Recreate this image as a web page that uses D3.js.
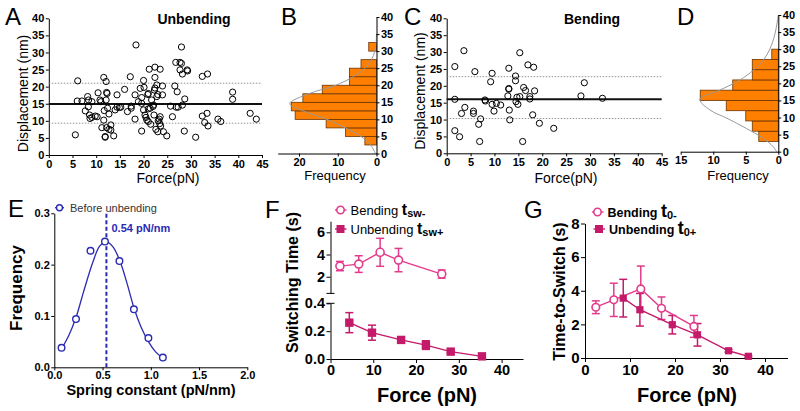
<!DOCTYPE html>
<html><head><meta charset="utf-8">
<script src="https://cdn.jsdelivr.net/npm/d3@7"></script>
<style>
body{margin:0;background:#fff}
svg{display:block}
</style></head><body>
<svg id="c" width="800" height="411"></svg>
<script>
// ---------------- DATA ----------------
// Panel A: unbending scatter
const unbForce = [5.6,6.1,6.0,7.0,7.7,8.2,8.4,8.6,9.1,9.1,9.8,10.4,10.2,11.0,11.2,11.6,11.7,11.6,11.9,12.1,12.3,12.1,12.4,12.7,13.1,13.1,13.7,14.0,14.4,14.4,15.2,16.0,16.6,17.2,17.4,17.4,18.2,18.2,18.4,18.9,19.3,19.6,19.6,19.6,20.0,20.1,20.0,20.3,20.7,21.0,21.0,21.2,21.4,21.7,22.1,22.2,22.4,22.4,22.3,22.8,22.8,22.6,23.1,23.5,23.5,23.6,24.0,24.0,24.2,24.9,25.7,26.1,26.6,26.8,27.1,26.9,27.7,28.0,28.0,27.7,28.2,28.2,28.6,28.7,29.3,31.0,32.4,32.4,32.9,33.4,33.6,33.5,35.7,36.3,38.8,38.8,42.5,43.8,8.7,8.35,10.8,12.2,11.9,12.7,14.9,12.2,20.9,23.0,21.0,22.0,20.5,23.3,21.5,23.4,27.3,23.0,29.2,22.4];
const unbDisp = [5.9,21.7,15.8,15.8,12.9,17.1,16.1,11.7,15.6,11.0,11.4,18.2,11.2,15.6,8.0,22.7,13.0,10.2,5.2,21.5,18.0,16.1,13.7,12.0,8.8,7.3,5.6,13.2,17.6,14.0,14.0,19.2,12.7,22.9,14.3,13.7,17.6,10.5,32.2,15.6,19.5,16.8,15.1,7.0,21.8,19.8,13.2,11.7,10.2,18.0,9.8,25.1,13.7,16.1,14.6,11.7,25.7,22.7,19.0,20.5,17.1,7.5,10.0,25.1,11.2,8.5,20.2,17.6,6.8,5.6,14.3,11.2,20.2,27.1,18.5,14.0,27.1,31.6,26.8,24.9,23.7,14.6,7.0,16.4,24.6,5.2,23.0,11.4,9.5,12.2,8.5,23.7,10.5,9.8,18.4,16.3,12.2,10.5,10.7,14.1,16.1,8.0,5.4,7.5,13.9,18.3,17.7,17.7,13.5,14.2,11.0,10.5,9.0,9.2,14.0,6.8,24.9,19.6];
const unbLines = [14.9, 9.3, 21.0];   // mean, lower, upper

// Panel B: unbending histogram (bin start, count), fit curve points [disp, freq]
const unbBinStart = [2.5,5,7.5,10,12.5,15,17.5,20,22.5,25,30];
const unbBinCount = [3,8,13,21,22,19,14,7,7,4,2];
const unbBinWidth = 2.5;
const unbFit = [[0,0.3],[2.5,1.5],[5,4],[7.5,8],[10,12.8],[12.5,19],[14.6,22.4],[17.5,17.5],[20,10.5],[22.5,6],[25,3],[27.5,1.3],[30,0.45],[32.5,0.1],[35,0]];

// Panel C: bending scatter
const bendForce = [1.7,1.7,1.7,2.7,3.1,3.6,3.8,5.6,5.6,5.9,6.7,7.1,6.9,8.0,8.1,9.2,9.5,9.5,9.9,10.4,11.3,13.0,13.0,13.0,12.8,13.1,13.2,14.4,14.4,14.5,14.7,14.9,15.3,15.3,15.9,16.1,16.5,17.0,17.4,17.4,18.2,18.4,18.0,19.4,22.4,28.1,28.8,32.6];
const bendDisp = [25.7,16.0,6.7,4.9,11.8,30.4,13.6,11.8,12.5,24.2,8.6,10.2,3.5,15.8,15.5,21.2,23.7,14.5,12.5,14.8,14.3,25.2,19.2,19.0,17.0,12.8,9.9,22.9,21.5,15.3,16.6,14.5,16.8,29.8,3.5,19.5,18.6,26.2,16.8,16.1,25.5,18.5,11.4,8.9,7.4,17.0,20.9,16.3];
const bendLines = [16.0, 10.3, 22.7];

// Panel D: bending histogram
const bendBinStart = [3,6,9,12,15,18,21,24,27];
const bendBinCount = [3,4,5,8,12,7,4,4,1];
const bendBinWidth = 3;
const bendFit = [[0,0.25],[1.5,0.8],[3.9,2.3],[6.8,4.9],[9.8,7.9],[12.2,10.5],[15.3,12.05],[18,9],[21,5.9],[23.9,3.8],[26.8,2.3],[30,1.3],[34.6,0.5],[40,0]];

// Panel E: spring constant distribution
const springK = [0.075,0.225,0.375,0.525,0.675,0.825,0.975,1.125];
const springFreq = [0.038,0.094,0.227,0.245,0.207,0.113,0.057,0.019];
const springFit = [[0.075,0.036],[0.15,0.062],[0.225,0.097],[0.3,0.145],[0.4,0.205],[0.47,0.236],[0.54,0.245],[0.61,0.234],[0.68,0.207],[0.75,0.166],[0.83,0.113],[0.9,0.078],[0.975,0.05],[1.05,0.03],[1.13,0.017]];
const springPeak = 0.54;

// Panel F: switching time
const fForceBend = [2.2,6.6,11.6,15.9,26.0];
const fTimeBend = [2.96,3.14,4.2,3.5,2.24];
const fErrBend = [0.42,0.75,1.26,1.05,0.37];
const fForceUnb = [4.4,9.7,16.5,22.3,28.1,35.4];
const fTimeUnb = [0.261,0.189,0.137,0.10,0.053,0.019];
const fErrUnb = [0.072,0.054,0.02,0.031,0.008,0.006];

// Panel G: time-to-switch
const gForceBend = [2.4,6.4,12.4,17.0,24.2];
const gTimeBend = [3.02,3.46,4.11,2.96,1.88];
const gErrBend = [0.38,0.99,1.36,0.67,0.65];
const gForceUnb = [8.5,12.2,19.4,25.0,31.9,36.3];
const gTimeUnb = [3.56,2.87,1.98,1.38,0.43,0.1];
const gErrUnb = [1.12,0.97,0.55,0.67,0.08,0.05];

// tick labels
const dispTicks = [0,5,10,15,20,25,30,35,40];
const forceTicksAC = [0,5,10,15,20,25,30,35,40,45];
const freqTicksB = [0,10,20];
const freqTicksD = [0,5,10,15];
const eTicksX = [0,0.5,1.0,1.5,2.0];
const eTicksY = [0,0.1,0.2,0.3];
const fgTicksX = [0,10,20,30,40];
const fTicksUp = [2,4,6];
const fTicksLo = [0,0.2,0.4];
const gTicksY = [0,2,4,6,8];

// ---------------- DRAW ----------------
const FF = 'Arial, "Liberation Sans", sans-serif';
const svg = d3.select('#c').attr('font-family', FF);
const orange = '#ff8000', barStroke = '#6b3300';
const blue = '#2a2ab4';
const bendC = '#e23b8d', unbC = '#c41a6a';

function ax(g, axis, size, weight) {
  g.call(axis);
  g.attr('font-family', FF).attr('font-size', size).attr('font-weight', weight || 'bold');
  g.selectAll('.domain').attr('stroke', '#000');
  g.selectAll('.tick line').attr('stroke', '#000');
  g.selectAll('text').attr('fill', '#000');
  return g;
}
function txt(x, y, s, size, weight, opts) {
  const t = svg.append('text').attr('x', x).attr('y', y).text(s)
    .attr('font-size', size).attr('font-weight', weight || 'normal').attr('fill', (opts && opts.fill) || '#000');
  if (opts && opts.anchor) t.attr('text-anchor', opts.anchor);
  if (opts && opts.rotate) t.attr('transform', `rotate(-90,${x},${y})`);
  return t;
}

// ---- Scatter panels (A, C)
function scatter(xr, yr, forces, disps, lines, title, titleX, labelX) {
  const x = d3.scaleLinear([0,45], xr);
  const y = d3.scaleLinear([0,40], yr);
  ax(svg.append('g').attr('transform', `translate(0,${y(0)})`),
     d3.axisBottom(x).tickValues(forceTicksAC).tickSize(3).tickSizeOuter(0).tickPadding(2), 11);
  ax(svg.append('g').attr('transform', `translate(${x(0)},0)`),
     d3.axisLeft(y).tickValues(dispTicks).tickSize(3).tickSizeOuter(0).tickPadding(1.5), 11);
  [lines[1], lines[2]].forEach(v => {
    svg.append('line').attr('x1', x(0)).attr('x2', x(45)).attr('y1', y(v)).attr('y2', y(v))
      .attr('stroke', '#777').attr('stroke-width', 0.8).attr('stroke-dasharray', '1.5,1.5');
  });
  svg.append('line').attr('x1', x(0)).attr('x2', x(45)).attr('y1', y(lines[0])).attr('y2', y(lines[0]))
    .attr('stroke', '#111').attr('stroke-width', 2);
  svg.append('g').selectAll('circle').data(forces.map((f,i)=>[f, disps[i]])).join('circle')
    .attr('cx', d => x(d[0])).attr('cy', d => y(d[1])).attr('r', 3.1)
    .attr('fill', 'none').attr('stroke', '#000').attr('stroke-width', 1);
  txt(titleX, 24, title, 14, 'bold', {anchor: 'middle'});
  txt(labelX, 183, 'Force(pN)', 14, 'normal', {anchor: 'middle'});
}
scatter([48.8,262], [155,18.3], unbForce, unbDisp, unbLines, 'Unbending', 194, 168);
scatter([446.7,661.7], [153.3,18.3], bendForce, bendDisp, bendLines, 'Bending', 592, 566);
txt(27.5, 93.5, 'Displacement (nm)', 14, 'normal', {anchor: 'middle', rotate: true});
txt(425, 91, 'Displacement (nm)', 14, 'normal', {anchor: 'middle', rotate: true});

// ---- Histogram panels (B, D)
function hist(xdom, xr, yr, starts, counts, w, fit, ticksX, labelX) {
  const x = d3.scaleLinear(xdom, xr);
  const y = d3.scaleLinear([0,40], yr);
  svg.append('g').selectAll('rect').data(starts.map((s,i)=>[s, counts[i]])).join('rect')
    .attr('x', d => x(d[1])).attr('width', d => x(0) - x(d[1]))
    .attr('y', d => y(d[0] + w)).attr('height', d => y(d[0]) - y(d[0] + w))
    .attr('fill', orange).attr('stroke', barStroke).attr('stroke-width', 0.8);
  svg.append('path').datum(fit)
    .attr('d', d3.line().x(d => x(d[1])).y(d => y(d[0])).curve(d3.curveCatmullRom))
    .attr('fill', 'none').attr('stroke', '#999').attr('stroke-width', 1);
  ax(svg.append('g').attr('transform', `translate(0,${y(0)})`),
     d3.axisBottom(x).tickValues(ticksX).tickSize(3).tickSizeOuter(0).tickPadding(1.5), 11);
  ax(svg.append('g').attr('transform', `translate(${x(0)},0)`),
     d3.axisRight(y).tickValues(dispTicks).tickSize(3).tickSizeOuter(0).tickPadding(1.5), 11);
  txt(labelX, 180, 'Frequency', 13, 'normal', {anchor: 'middle'});
}
hist([0,25.5], [376.5,277.7], [153.5,17], unbBinStart, unbBinCount, unbBinWidth, unbFit, freqTicksB, 335);
hist([0,15], [778.3,680.7], [151.7,15], bendBinStart, bendBinCount, bendBinWidth, bendFit, freqTicksD, 738);

// ---- Panel E
(function(){
  const x = d3.scaleLinear([0,2], [54.3,247.3]);
  const y = d3.scaleLinear([0,0.3], [367.3,213.3]);
  ax(svg.append('g').attr('transform', `translate(0,${y(0)})`),
     d3.axisBottom(x).tickValues(eTicksX).tickFormat(d3.format('.1f')).tickSize(3).tickSizeOuter(0).tickPadding(1), 11);
  ax(svg.append('g').attr('transform', `translate(${x(0)},0)`),
     d3.axisLeft(y).tickValues(eTicksY).tickFormat(d3.format('.1f')).tickSize(3).tickSizeOuter(0).tickPadding(1.5), 11);
  svg.append('line').attr('x1', x(springPeak)).attr('x2', x(springPeak)).attr('y1', y(0)).attr('y2', y(0.3))
    .attr('stroke', blue).attr('stroke-width', 2).attr('stroke-dasharray', '4,2.5');
  svg.append('path').datum(springFit)
    .attr('d', d3.line().x(d => x(d[0])).y(d => y(d[1])).curve(d3.curveCatmullRom))
    .attr('fill', 'none').attr('stroke', blue).attr('stroke-width', 1.3);
  svg.append('g').selectAll('circle').data(springK.map((k,i)=>[k, springFreq[i]])).join('circle')
    .attr('cx', d => x(d[0])).attr('cy', d => y(d[1])).attr('r', 3.3)
    .attr('fill', '#fff').attr('stroke', blue).attr('stroke-width', 1.4);
  svg.append('line').attr('x1', 55).attr('x2', 64).attr('y1', 207.7).attr('y2', 207.7).attr('stroke', blue).attr('stroke-width', 1.3);
  svg.append('circle').attr('cx', 59.5).attr('cy', 207.7).attr('r', 3).attr('fill', '#fff').attr('stroke', blue).attr('stroke-width', 1.4);
  txt(70, 211.5, 'Before unbending', 11, 'normal', {fill: '#333'});
  txt(111.5, 231.5, '0.54 pN/nm', 11, 'bold', {fill: blue});
  txt(22, 288, 'Frequency', 17, 'bold', {anchor: 'middle', rotate: true});
  txt(151, 395, 'Spring constant (pN/nm)', 14.5, 'bold', {anchor: 'middle'});
})();

function errbars(g, xs, ys, es, x, y, color, cap) {
  xs.forEach((f, i) => {
    const cx = x(f), y1 = y(ys[i] + es[i]), y2 = y(ys[i] - es[i]);
    g.append('line').attr('x1', cx).attr('x2', cx).attr('y1', y1).attr('y2', y2).attr('stroke', color).attr('stroke-width', 1.5);
    [y1, y2].forEach(yy => g.append('line').attr('x1', cx - cap).attr('x2', cx + cap).attr('y1', yy).attr('y2', yy).attr('stroke', color).attr('stroke-width', 1.5));
  });
}
function series(g, xs, ys, x, y, color, shape, sz) {
  g.append('path').datum(xs.map((f,i)=>[f, ys[i]]))
    .attr('d', d3.line().x(d => x(d[0])).y(d => y(d[1])))
    .attr('fill', 'none').attr('stroke', color).attr('stroke-width', 1.4);
  const pts = xs.map((f,i)=>[f, ys[i]]);
  if (shape === 'circle') {
    g.selectAll(null).data(pts).join('circle').attr('cx', d => x(d[0])).attr('cy', d => y(d[1])).attr('r', sz)
      .attr('fill', '#fff').attr('stroke', color).attr('stroke-width', 1.6);
  } else {
    g.selectAll(null).data(pts).join('rect').attr('x', d => x(d[0]) - sz).attr('y', d => y(d[1]) - sz)
      .attr('width', 2*sz).attr('height', 2*sz).attr('fill', color);
  }
}
function legend(x0, y0, color, shape, label, sub, size, weight, tsize) {
  svg.append('line').attr('x1', x0 - 5.5).attr('x2', x0 + 6).attr('y1', y0).attr('y2', y0).attr('stroke', color).attr('stroke-width', 1.4);
  if (shape === 'circle') svg.append('circle').attr('cx', x0).attr('cy', y0).attr('r', 3.7).attr('fill', '#fff').attr('stroke', color).attr('stroke-width', 1.6);
  else svg.append('rect').attr('x', x0 - 4).attr('y', y0 - 4).attr('width', 8).attr('height', 8).attr('fill', color);
  const t = svg.append('text').attr('x', x0 + 10).attr('y', y0 + 4.5).attr('fill', '#000');
  t.append('tspan').text(label + ' ').attr('font-size', size).attr('font-weight', weight);
  t.append('tspan').text('t').attr('font-size', tsize).attr('font-weight', 'bold');
  t.append('tspan').text(sub).attr('font-size', 11).attr('font-weight', 'bold').attr('dy', 2);
}

// ---- Panel F
(function(){
  const x = d3.scaleLinear([0,45], [330.5,523]);
  const yU = d3.scaleLinear([0.5,7], [293.4,221.2]);
  const yL = d3.scaleLinear([0,0.4], [359,303.3]);
  ax(svg.append('g').attr('transform', `translate(0,${yL(0)})`),
     d3.axisBottom(x).tickValues(fgTicksX).tickSize(4).tickSizeOuter(0).tickPadding(2), 14.5);
  ax(svg.append('g').attr('transform', `translate(${x(0)},0)`),
     d3.axisLeft(yU).tickValues(fTicksUp).tickFormat(d3.format('d')).tickSize(4).tickSizeOuter(0).tickPadding(1.5), 14.5);
  ax(svg.append('g').attr('transform', `translate(${x(0)},0)`),
     d3.axisLeft(yL).tickValues(fTicksLo).tickFormat(d3.format('.1f')).tickSize(4).tickSizeOuter(0).tickPadding(1.5), 14.5);
  [yU(0.5), yL(0.4)].forEach(yy => svg.append('line').attr('x1', x(0) - 4).attr('x2', x(0) + 4).attr('y1', yy).attr('y2', yy).attr('stroke', '#000'));
  const g = svg.append('g');
  errbars(g, fForceBend, fTimeBend, fErrBend, x, yU, bendC, 4);
  errbars(g, fForceUnb, fTimeUnb, fErrUnb, x, yL, unbC, 4);
  series(g, fForceBend, fTimeBend, x, yU, bendC, 'circle', 4);
  series(g, fForceUnb, fTimeUnb, x, yL, unbC, 'rect', 4.2);
  legend(340.5, 210, bendC, 'circle', 'Bending', 'sw-', 13, 'normal', 16);
  legend(340.5, 229, unbC, 'rect', 'Unbending', 'sw+', 13, 'normal', 16);
  txt(298, 282.5, 'Switching Time (s)', 16, 'bold', {anchor: 'middle', rotate: true});
  txt(427, 401.5, 'Force (pN)', 20, 'bold', {anchor: 'middle'});
})();

// ---- Panel G
(function(){
  const x = d3.scaleLinear([0,45], [585,787.5]);
  const y = d3.scaleLinear([0,8], [358,223.5]);
  ax(svg.append('g').attr('transform', `translate(0,${y(0)})`),
     d3.axisBottom(x).tickValues(fgTicksX).tickSize(4).tickSizeOuter(0).tickPadding(2), 15);
  ax(svg.append('g').attr('transform', `translate(${x(0)},0)`),
     d3.axisLeft(y).tickValues(gTicksY).tickFormat(d3.format('d')).tickSize(4).tickSizeOuter(0).tickPadding(1.5), 15);
  const g = svg.append('g');
  errbars(g, gForceBend, gTimeBend, gErrBend, x, y, bendC, 4);
  errbars(g, gForceUnb, gTimeUnb, gErrUnb, x, y, unbC, 4);
  series(g, gForceBend, gTimeBend, x, y, bendC, 'circle', 3.8);
  series(g, gForceUnb, gTimeUnb, x, y, unbC, 'rect', 3.6);
  legend(597.5, 212, bendC, 'circle', 'Bending', '0-', 12.5, 'bold', 18);
  legend(599, 229, unbC, 'rect', 'Unbending', '0+', 12.5, 'bold', 18);
  txt(565, 291.5, 'Time-to-Switch (s)', 16, 'bold', {anchor: 'middle', rotate: true});
  txt(687, 402, 'Force (pN)', 20, 'bold', {anchor: 'middle'});
})();

// ---- Panel letters
[['A',5,25],['B',281,25],['C',404,25],['D',677,25],['E',8,217],['F',265,218],['G',524,218]]
  .forEach(d => txt(d[1], d[2], d[0], 24, 'normal'));
</script>
</body></html>
